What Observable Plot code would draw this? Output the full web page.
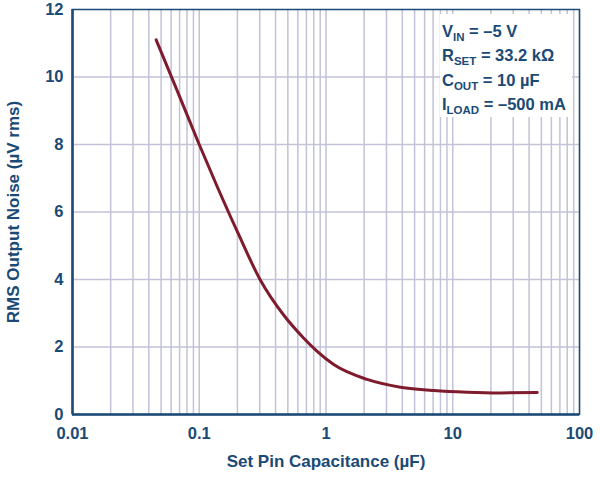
<!DOCTYPE html>
<html><head><meta charset="utf-8">
<script src="https://cdn.jsdelivr.net/npm/d3@7"></script>
<script src="https://cdn.jsdelivr.net/npm/@observablehq/plot@0.6"></script>
<style>body{margin:0;background:#fff} svg{display:block}</style>
</head><body><div id="chart"></div>
<script>
const capacitance = [0.0457, 0.0686, 0.0992, 0.139, 0.199, 0.304, 0.465, 0.668, 0.852, 1.15, 2.11, 3.87, 7.09, 13.0, 23.8, 46.4];
const noise       = [11.10, 9.50, 8.03, 6.74, 5.43, 3.98, 2.94, 2.26, 1.87, 1.48, 1.04, 0.81, 0.71, 0.66, 0.64, 0.65];
const xTicks = [0.01, 0.1, 1, 10, 100];
const xTickLabels = ["0.01", "0.1", "1", "10", "100"];
const yTicks = [0, 2, 4, 6, 8, 10, 12];
const yGrid = [2, 4, 6, 8, 10];
const xLabel = "Set Pin Capacitance (µF)";
const yLabel = "RMS Output Noise (µV rms)";
const legendMain = ["V", "R", "C", "I"];
const legendSub = ["IN", "SET", "OUT", "LOAD"];
const legendRest = [" = –5 V", " = 33.2 kΩ", " = 10 µF", " = –500 mA"];

const navy = "#1b4a76";
const gridColor = "#c2c2d8";
const curveColor = "#7e1b2c";

const data = capacitance.map((c, i) => ({c, n: noise[i]}));
const xGrid = [];
for (const d of [0.01, 0.1, 1, 10]) for (let m = 1; m <= 9; m++) xGrid.push(+(d * m).toPrecision(3));
xGrid.push(100);

const chart = Plot.plot({
  width: 600, height: 482,
  marginLeft: 72, marginRight: 21, marginTop: 9, marginBottom: 68,
  style: {fontFamily: "'Liberation Sans', Arial, sans-serif", fontWeight: "bold", fontSize: "16px", color: navy, background: "#fff"},
  x: {type: "log", domain: [0.01, 100]},
  y: {domain: [0, 12]},
  marks: [
    Plot.ruleX(xGrid, {stroke: gridColor, strokeWidth: 1.5}),
    Plot.ruleY(yGrid, {stroke: gridColor, strokeWidth: 1.5}),
    Plot.frame({stroke: navy, strokeWidth: 1.5}),
    Plot.ruleX([0.01], {stroke: navy, strokeWidth: 2.5}),
    Plot.ruleY([0], {stroke: navy, strokeWidth: 2.5}),
    Plot.line(data, {x: "c", y: "n", curve: "monotone-x", stroke: curveColor, strokeWidth: 3}),
    Plot.axisX(xTicks, {tickSize: 0, tickPadding: 13, fill: navy, fontSize: 16.5, label: null,
      tickFormat: d => xTickLabels[xTicks.indexOf(d)]}),
    Plot.axisY(yTicks, {tickSize: 0, tickPadding: 9, fill: navy, fontSize: 16.5, label: null}),
    Plot.text([xLabel], {frameAnchor: "bottom", dy: 52, fill: navy, fontSize: 17, textAnchor: "middle"}),
    Plot.text([yLabel], {frameAnchor: "left", dx: -59, rotate: -90, fill: navy, fontSize: 17, textAnchor: "middle"})
  ]
});

const svg = d3.select(chart);
svg.append("rect").attr("x", 440).attr("y", 14).attr("width", 132).attr("height", 103).attr("fill", "#fff");
const lg = svg.append("g").attr("fill", navy).attr("font-size", 16.5).attr("font-weight", "bold").attr("text-anchor", "start");
legendMain.forEach((m, i) => {
  const t = lg.append("text").attr("x", 442).attr("y", 36.5 + i * 24.6);
  t.append("tspan").text(m);
  t.append("tspan").attr("font-size", 11.5).attr("dy", 4).text(legendSub[i]);
  t.append("tspan").attr("dy", -4).text(legendRest[i]);
});
document.getElementById("chart").append(chart);
</script>
</body></html>
